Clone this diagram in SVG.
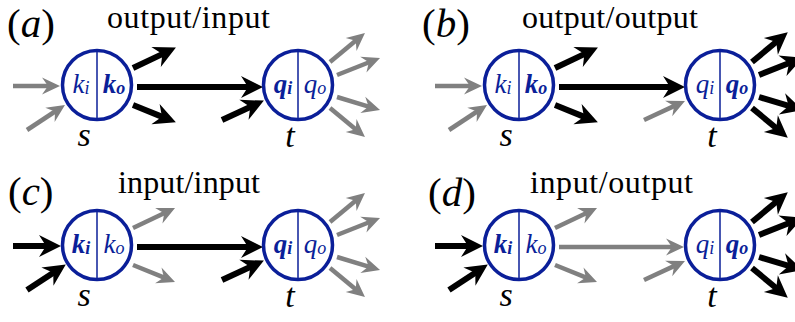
<svg xmlns="http://www.w3.org/2000/svg" width="795" height="322" viewBox="0 0 795 322">
<style>
.bk{stroke:#000;stroke-width:6;fill:none;marker-end:url(#hb)}
.gr{stroke:#808080;stroke-width:4.5;fill:none;marker-end:url(#hg)}
.node circle{fill:#fff;stroke:#0b1f99;stroke-width:3.5}
.node line{stroke:#0b1f99;stroke-width:1.5}
text{font-family:"Liberation Serif","Times New Roman",serif}
.lbl{font-style:italic;font-size:27px;fill:#0b1f99;text-anchor:middle}
.b{font-weight:bold}
.nm{font-style:italic;font-size:34px;fill:#000;text-anchor:middle}
.hd{font-size:32px;fill:#000}
.pl{font-size:41px;fill:#000}
.it{font-style:italic}
</style>
<defs>
<marker id="hb" markerUnits="userSpaceOnUse" markerWidth="40" markerHeight="40" refX="0" refY="0" orient="auto" overflow="visible"><path d="M14,0 L-8,-11 L-1,0 L-8,11 Z" fill="#000"/></marker>
<marker id="hg" markerUnits="userSpaceOnUse" markerWidth="40" markerHeight="40" refX="0" refY="0" orient="auto" overflow="visible"><path d="M11,0 L-7,-8.5 L-1,0 L-7,8.5 Z" fill="#808080"/></marker>
</defs>

<g id="labels">
<text class="pl" x="7" y="37">(<tspan class="it">a</tspan>)</text>
<text class="hd" x="107" y="28" textLength="163">output/input</text>
<text class="pl" x="422" y="37">(<tspan class="it">b</tspan>)</text>
<text class="hd" x="522" y="28" textLength="176">output/output</text>
<text class="pl" x="8" y="205">(<tspan class="it">c</tspan>)</text>
<text class="hd" x="118" y="193" textLength="142">input/input</text>
<text class="pl" x="428" y="206">(<tspan class="it">d</tspan>)</text>
<text class="hd" x="530" y="193" textLength="163">input/output</text>
</g>

<!-- panel a -->
<g id="panel-a" transform="translate(97,85)">
<g id="a-connectors">
<path class="gr" d="M-84,1 L-48,1"/>
<path class="gr" d="M-70,45 L-41.2,26"/>
<path class="bk" d="M36,-17 L66.3,-31.4"/>
<path class="bk" d="M40,2 L152,2"/>
<path class="bk" d="M36,20 L65.9,32.1"/>
<path class="bk" d="M125,35 L154.2,21.5"/>
<path class="gr" d="M233,-23 L259.5,-45"/>
<path class="gr" d="M240,-10 L272.8,-23"/>
<path class="gr" d="M240,12 L272.5,21.8"/>
<path class="gr" d="M233,23 L259.5,45"/>
</g>
<g id="a-s" class="node">
<circle cx="0" cy="0" r="34.5"/><line x1="0" y1="-34" x2="0" y2="34"/>
<text class="lbl" x="-16" y="8">k<tspan font-size="18" dy="1">i</tspan></text>
<text class="lbl b" x="17" y="8">k<tspan font-size="18" dy="1">o</tspan></text>
<text class="nm" x="-13" y="61">s</text>
</g>
<g id="a-t" class="node" transform="translate(201,0)">
<circle cx="0" cy="0" r="34.5"/><line x1="0" y1="-34" x2="0" y2="34"/>
<text class="lbl b" x="-15" y="8">q<tspan font-size="18" dy="1">i</tspan></text>
<text class="lbl" x="17" y="8">q<tspan font-size="18" dy="1">o</tspan></text>
<text class="nm" x="-8" y="62">t</text>
</g>
</g>

<!-- panel b -->
<g id="panel-b" transform="translate(519,85)">
<g id="b-connectors">
<path class="gr" d="M-84,1 L-48,1"/>
<path class="gr" d="M-70,45 L-41.2,26"/>
<path class="bk" d="M36,-17 L66.3,-31.4"/>
<path class="bk" d="M40,2 L152,2"/>
<path class="bk" d="M36,20 L65.9,32.1"/>
<path class="gr" d="M125,35 L156,20.6"/>
<path class="bk" d="M233,-23 L258,-43.7"/>
<path class="bk" d="M240,-10 L270.9,-22.2"/>
<path class="bk" d="M240,12 L270.6,21.2"/>
<path class="bk" d="M233,23 L258,43.7"/>
</g>
<g id="b-s" class="node">
<circle cx="0" cy="0" r="34.5"/><line x1="0" y1="-34" x2="0" y2="34"/>
<text class="lbl" x="-16" y="8">k<tspan font-size="18" dy="1">i</tspan></text>
<text class="lbl b" x="17" y="8">k<tspan font-size="18" dy="1">o</tspan></text>
<text class="nm" x="-13" y="61">s</text>
</g>
<g id="b-t" class="node" transform="translate(201,0)">
<circle cx="0" cy="0" r="34.5"/><line x1="0" y1="-34" x2="0" y2="34"/>
<text class="lbl" x="-15" y="8">q<tspan font-size="18" dy="1">i</tspan></text>
<text class="lbl b" x="17" y="8">q<tspan font-size="18" dy="1">o</tspan></text>
<text class="nm" x="-8" y="62">t</text>
</g>
</g>

<!-- panel c -->
<g id="panel-c" transform="translate(97,245)">
<g id="c-connectors">
<path class="bk" d="M-84,1 L-50,1"/>
<path class="bk" d="M-70,45 L-42.9,27.2"/>
<path class="gr" d="M36,-17 L68.1,-32.3"/>
<path class="bk" d="M40,2 L152,2"/>
<path class="gr" d="M36,20 L67.8,32.9"/>
<path class="bk" d="M125,35 L154.2,21.5"/>
<path class="gr" d="M233,-23 L259.5,-45"/>
<path class="gr" d="M240,-10 L272.8,-23"/>
<path class="gr" d="M240,12 L272.5,21.8"/>
<path class="gr" d="M233,23 L259.5,45"/>
</g>
<g id="c-s" class="node">
<circle cx="0" cy="0" r="34.5"/><line x1="0" y1="-34" x2="0" y2="34"/>
<text class="lbl b" x="-16" y="8">k<tspan font-size="18" dy="1">i</tspan></text>
<text class="lbl" x="17" y="8">k<tspan font-size="18" dy="1">o</tspan></text>
<text class="nm" x="-13" y="61">s</text>
</g>
<g id="c-t" class="node" transform="translate(201,0)">
<circle cx="0" cy="0" r="34.5"/><line x1="0" y1="-34" x2="0" y2="34"/>
<text class="lbl b" x="-15" y="8">q<tspan font-size="18" dy="1">i</tspan></text>
<text class="lbl" x="17" y="8">q<tspan font-size="18" dy="1">o</tspan></text>
<text class="nm" x="-8" y="62">t</text>
</g>
</g>

<!-- panel d -->
<g id="panel-d" transform="translate(519,245)">
<g id="d-connectors">
<path class="bk" d="M-84,1 L-50,1"/>
<path class="bk" d="M-70,45 L-42.9,27.2"/>
<path class="gr" d="M36,-17 L68.1,-32.3"/>
<path class="gr" d="M40,2 L154,2"/>
<path class="gr" d="M36,20 L67.8,32.9"/>
<path class="gr" d="M125,35 L156,20.6"/>
<path class="bk" d="M233,-23 L258,-43.7"/>
<path class="bk" d="M240,-10 L270.9,-22.2"/>
<path class="bk" d="M240,12 L270.6,21.2"/>
<path class="bk" d="M233,23 L258,43.7"/>
</g>
<g id="d-s" class="node">
<circle cx="0" cy="0" r="34.5"/><line x1="0" y1="-34" x2="0" y2="34"/>
<text class="lbl b" x="-16" y="8">k<tspan font-size="18" dy="1">i</tspan></text>
<text class="lbl" x="17" y="8">k<tspan font-size="18" dy="1">o</tspan></text>
<text class="nm" x="-13" y="61">s</text>
</g>
<g id="d-t" class="node" transform="translate(201,0)">
<circle cx="0" cy="0" r="34.5"/><line x1="0" y1="-34" x2="0" y2="34"/>
<text class="lbl" x="-15" y="8">q<tspan font-size="18" dy="1">i</tspan></text>
<text class="lbl b" x="17" y="8">q<tspan font-size="18" dy="1">o</tspan></text>
<text class="nm" x="-8" y="62">t</text>
</g>
</g>
</svg>
